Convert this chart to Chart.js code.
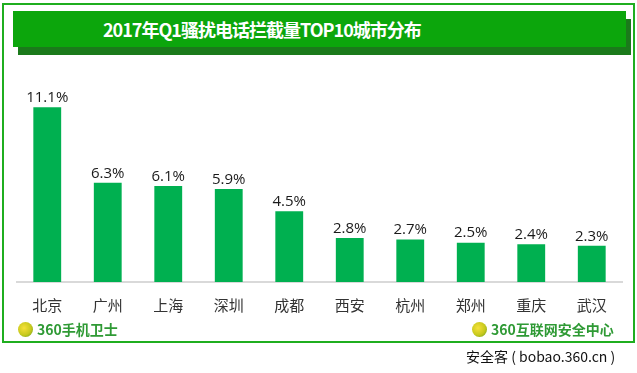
<!DOCTYPE html>
<html>
<head>
<meta charset="utf-8">
<script src="https://cdn.jsdelivr.net/npm/chart.js@4.4.1/dist/chart.umd.min.js"></script>
<style>
  html, body { margin: 0; padding: 0; background: #fff; }
  .page { position: relative; width: 637px; height: 373px; overflow: hidden; font-family: "Noto Sans CJK SC", "Noto Sans", sans-serif; }
  .frame { position: absolute; left: 2px; top: 3px; width: 629px; height: 336px; border: 2px solid #1fae1f; }
  .banner-shadow { position: absolute; left: 18px; top: 19px; width: 613px; height: 36px; background: #1b7a1b; }
  .banner { position: absolute; left: 13px; top: 11px; width: 613px; height: 36px; background: #0ca60c; }
  .banner span { position: absolute; left: 90px; top: 0; line-height: 36px; color: #fff; font-weight: bold; font-size: 18px; letter-spacing: -1px; white-space: nowrap; }
  canvas { position: absolute; left: 0; top: 0; }
  .logo { position: absolute; top: 320px; height: 18px; display: flex; align-items: center; color: #2f9a35; font-weight: bold; white-space: nowrap; }
  .logo i { display: inline-block; width: 15px; height: 15px; border-radius: 50%; margin-right: 4px;
    background: radial-gradient(circle at 40% 40%, #f6e13a 0, #c8c91e 55%, #5c9a1e 100%); }
  .logo.left { left: 18px; font-size: 14px; }
  .logo.right { left: 472px; font-size: 14px; }
  .source { position: absolute; left: 466px; top: 346px; font-size: 14px; color: #111; white-space: nowrap; }
</style>
</head>
<body>
<div class="page">
  <div class="frame"></div>
  <div class="banner-shadow"></div>
  <div class="banner"><span id="title"></span></div>
  <canvas id="chart" width="637" height="373"></canvas>
  <div class="logo left"><i></i>360手机卫士</div>
  <div class="logo right"><i></i>360互联网安全中心</div>
  <div class="source">安全客 ( bobao.360.cn )</div>
</div>
<script>
const TITLE = "2017年Q1骚扰电话拦截量TOP10城市分布";
const cities = ["北京", "广州", "上海", "深圳", "成都", "西安", "杭州", "郑州", "重庆", "武汉"];
const shares = [11.1, 6.3, 6.1, 5.9, 4.5, 2.8, 2.7, 2.5, 2.4, 2.3];
const yMax = 12;

document.getElementById("title").textContent = TITLE;

// percent labels over each bar
const valueLabels = {
  id: "valueLabels",
  afterDatasetsDraw(chart) {
    const ctx = chart.ctx;
    const meta = chart.getDatasetMeta(0);
    ctx.save();
    ctx.font = "15px 'Open Sans', 'Noto Sans', sans-serif";
    ctx.fillStyle = "#1a1a1a";
    ctx.textAlign = "center";
    ctx.textBaseline = "bottom";
    meta.data.forEach((bar, i) => {
      ctx.fillText(shares[i].toFixed(1) + "%", bar.x, bar.y - 2);
    });
    ctx.restore();
  }
};

new Chart(document.getElementById("chart"), {
  type: "bar",
  data: {
    labels: cities,
    datasets: [{
      data: shares,
      backgroundColor: "#00b050",
      borderWidth: 0,
      barPercentage: 0.92,
      categoryPercentage: 0.5
    }]
  },
  options: {
    responsive: false,
    animation: false,
    events: [],
    layout: { padding: { left: 17, right: 15, top: 93, bottom: 45 } },
    plugins: { legend: { display: false }, tooltip: { enabled: false } },
    scales: {
      x: {
        grid: { display: false, drawTicks: false },
        border: { display: true, color: "#d9d9d9", width: 2 },
        ticks: { color: "#333", padding: 14, font: { size: 15, family: "'Noto Sans CJK SC', sans-serif" } }
      },
      y: {
        display: false,
        min: 0,
        max: yMax
      }
    }
  },
  plugins: [valueLabels]
});
</script>
</body>
</html>
